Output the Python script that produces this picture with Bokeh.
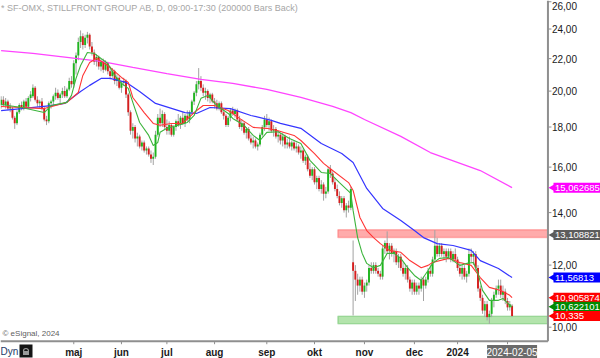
import math
from bokeh.plotting import figure
from bokeh.models import Range1d, BoxAnnotation, ColumnDataSource
from bokeh.core.properties import value
from bokeh.embed import file_html
from bokeh.resources import INLINE

# ---------------- data ----------------
open_ = [19.2, 19.5, 19.2, 19.4, 19.0, 19.0, 18.5, 18.2, 18.8, 19.2,
         19.0, 19.4, 19.1, 19.6, 19.7, 20.2, 19.5, 19.3, 19.4, 19.0,
         18.4, 18.3, 19.3, 19.4, 19.7, 19.9, 19.6, 19.8, 20.0, 19.7,
         20.1, 20.6, 20.4, 21.7, 22.2, 23.1, 23.5, 22.9, 23.4, 23.6,
         22.8, 22.4, 21.8, 22.1, 21.5, 21.8, 21.3, 21.7, 21.2, 20.9,
         21.2, 20.6, 20.8, 20.2, 20.5, 20.6, 19.8, 18.8, 17.8, 18.0,
         17.4, 17.5, 17.0, 17.2, 16.8, 16.9, 16.6, 16.4, 16.5, 17.6,
         18.5, 18.2, 18.7, 18.0, 17.8, 18.1, 17.6, 18.0, 18.3, 18.1,
         18.5, 18.2, 18.6, 18.4, 18.8, 19.4, 19.9, 20.4, 20.6, 20.2,
         19.9, 20.0, 19.6, 19.8, 19.4, 19.3, 19.0, 19.3, 18.8, 18.6,
         18.1, 18.5, 18.9, 18.7, 18.9, 18.4, 18.0, 18.2, 17.7, 17.9,
         17.4, 17.2, 17.3, 17.0, 17.1, 17.6, 18.0, 18.4, 18.1, 18.3,
         17.8, 17.9, 17.5, 17.6, 17.3, 17.5, 17.1, 17.2, 17.0, 17.2,
         16.9, 17.0, 16.7, 16.8, 16.3, 16.5, 15.9, 15.6, 15.9, 15.3,
         15.5, 15.0, 15.2, 14.8, 14.9, 15.9, 15.7, 15.3, 15.0, 14.7,
         14.4, 14.6, 14.1, 14.3, 14.2, 12.1, 11.8, 11.5, 11.3, 11.5,
         11.1, 11.3, 11.4, 11.9, 11.8, 12.0, 11.8, 11.7, 11.6, 12.6,
         12.8, 12.5, 12.7, 12.4, 12.5, 12.1, 12.3, 11.9, 11.7, 11.9,
         11.5, 11.2, 11.4, 11.1, 11.3, 11.2, 11.5, 11.3, 11.5, 11.8,
         11.7, 12.2, 12.7, 12.4, 12.7, 12.4, 12.5, 12.3, 12.5, 12.2,
         12.4, 12.2, 11.9, 11.7, 11.9, 11.6, 11.7, 12.4, 12.3, 12.4,
         11.9, 11.2, 10.9, 10.5, 10.7, 10.3, 10.4, 10.8, 11.0, 11.2,
         11.3, 11.0, 11.1, 10.8, 10.6, 10.65]
high = [19.7, 19.7, 19.6, 19.5, 19.3, 19.1, 18.6, 18.9, 19.3, 19.4,
        19.5, 19.6, 19.7, 20.0, 20.4, 20.3, 19.7, 19.5, 19.6, 19.1,
        18.6, 19.4, 19.5, 19.8, 20.2, 20.1, 19.9, 20.2, 20.3, 20.2,
        20.8, 20.9, 21.9, 22.4, 23.4, 23.9, 23.7, 23.6, 23.8, 23.7,
        23.1, 22.6, 22.3, 22.2, 22.0, 22.0, 21.9, 21.8, 21.5, 21.4,
        21.3, 21.0, 20.9, 20.6, 20.8, 20.7, 19.9, 18.9, 18.2, 18.1,
        17.7, 17.6, 17.3, 17.3, 17.0, 17.0, 16.8, 16.7, 17.8, 18.7,
        19.0, 18.9, 18.8, 18.4, 18.3, 18.2, 18.1, 18.4, 18.7, 18.6,
        18.8, 18.7, 18.9, 18.9, 19.5, 20.0, 20.6, 21.4, 20.9, 20.4,
        20.2, 20.1, 19.9, 19.9, 19.6, 19.5, 19.4, 19.4, 19.0, 18.7,
        18.6, 19.0, 19.1, 19.0, 19.0, 18.6, 18.4, 18.3, 18.0, 18.0,
        17.6, 17.5, 17.4, 17.2, 17.7, 18.1, 18.6, 18.7, 18.5, 18.4,
        18.1, 18.0, 17.8, 17.7, 17.7, 17.6, 17.4, 17.5, 17.3, 17.3,
        17.2, 17.1, 17.0, 16.9, 16.6, 16.6, 16.2, 16.0, 16.0, 15.6,
        15.6, 15.4, 15.3, 15.1, 16.0, 16.1, 15.8, 15.5, 15.2, 14.9,
        14.7, 14.7, 14.4, 14.5, 15.1, 12.9, 12.0, 11.7, 11.6, 11.6,
        11.4, 11.5, 12.0, 12.1, 12.1, 12.1, 11.9, 11.8, 12.7, 12.9,
        13.25, 12.8, 12.8, 12.6, 12.6, 12.4, 12.4, 12.1, 12.0, 12.0,
        11.6, 11.5, 11.5, 11.4, 11.4, 11.6, 11.6, 11.6, 11.9, 12.0,
        12.3, 13.3, 13.0, 12.8, 12.8, 12.6, 12.6, 12.6, 12.6, 12.5,
        12.6, 12.3, 12.1, 12.0, 12.0, 11.8, 12.6, 12.6, 12.5, 12.5,
        12.0, 11.3, 11.0, 10.8, 10.8, 10.5, 10.9, 11.1, 11.3, 11.5,
        11.5, 11.3, 11.2, 10.9, 10.8, 10.7]
low = [19.0, 19.1, 19.0, 18.9, 18.8, 18.4, 17.9, 18.1, 18.7, 18.9,
       18.9, 19.0, 19.0, 19.4, 19.6, 19.4, 19.1, 19.0, 18.9, 18.3,
       18.1, 18.2, 19.0, 19.2, 19.5, 19.5, 19.3, 19.6, 19.6, 19.6,
       20.0, 20.2, 20.2, 21.0, 21.9, 22.7, 22.6, 22.7, 23.0, 22.6,
       22.2, 21.6, 21.5, 21.3, 21.2, 21.1, 21.2, 21.0, 20.7, 20.8,
       20.4, 20.3, 20.1, 19.9, 20.3, 19.6, 18.6, 17.6, 17.4, 17.2,
       17.0, 16.9, 16.8, 16.7, 16.6, 16.5, 16.2, 16.1, 16.4, 17.5,
       18.0, 18.0, 17.9, 17.6, 17.6, 17.5, 17.5, 17.8, 18.0, 17.9,
       18.1, 18.0, 18.3, 18.2, 18.7, 19.2, 19.7, 20.1, 20.0, 19.7,
       19.5, 19.4, 19.3, 19.3, 19.0, 18.9, 18.9, 18.7, 18.4, 18.0,
       18.0, 18.3, 18.6, 18.5, 18.3, 17.9, 17.8, 17.6, 17.4, 17.3,
       17.1, 16.9, 16.9, 16.8, 17.0, 17.5, 17.8, 18.0, 17.8, 17.7,
       17.5, 17.4, 17.2, 17.1, 17.0, 16.9, 16.9, 16.9, 16.8, 16.8,
       16.7, 16.6, 16.4, 16.2, 16.1, 15.8, 15.5, 15.4, 15.2, 15.0,
       14.9, 14.8, 14.5, 14.6, 14.8, 15.5, 15.2, 14.9, 14.6, 14.3,
       14.2, 14.0, 13.8, 14.0, 14.1, 10.35, 10.8, 11.0, 11.1, 11.0,
       10.9, 11.1, 11.3, 11.7, 11.7, 11.7, 11.6, 11.5, 11.5, 12.4,
       12.4, 12.2, 12.3, 12.1, 12.0, 11.9, 11.8, 11.6, 11.5, 11.4,
       11.1, 11.0, 11.0, 11.0, 11.0, 11.1, 10.8, 11.2, 11.4, 11.6,
       11.6, 12.1, 12.3, 12.3, 12.3, 12.2, 12.1, 12.2, 12.1, 12.1,
       12.1, 11.8, 11.6, 11.5, 11.5, 11.4, 11.6, 12.1, 12.0, 11.8,
       11.1, 10.8, 10.4, 10.3, 10.2, 10.1, 10.3, 10.6, 10.9, 11.0,
       10.9, 10.8, 10.7, 10.5, 10.5, 10.3]
close = [19.5, 19.2, 19.4, 19.0, 19.1, 18.5, 18.2, 18.8, 19.2, 19.0,
         19.4, 19.1, 19.6, 19.8, 20.2, 19.5, 19.3, 19.4, 19.0, 18.4,
         18.3, 19.3, 19.4, 19.7, 19.9, 19.6, 19.8, 20.0, 19.7, 20.1,
         20.6, 20.4, 21.7, 22.2, 23.1, 23.5, 22.9, 23.4, 23.6, 22.8,
         22.4, 21.8, 22.1, 21.5, 21.8, 21.3, 21.7, 21.2, 20.9, 21.2,
         20.6, 20.8, 20.2, 20.5, 20.6, 19.8, 18.8, 17.8, 18.0, 17.4,
         17.5, 17.0, 17.2, 16.8, 16.9, 16.6, 16.4, 16.5, 17.6, 18.5,
         18.2, 18.7, 18.0, 17.8, 18.1, 17.6, 18.0, 18.3, 18.1, 18.5,
         18.2, 18.6, 18.4, 18.8, 19.4, 19.9, 20.4, 20.6, 20.2, 19.9,
         20.0, 19.6, 19.8, 19.4, 19.3, 19.0, 19.3, 18.8, 18.6, 18.1,
         18.5, 18.9, 18.7, 18.9, 18.4, 18.0, 18.2, 17.7, 17.9, 17.4,
         17.2, 17.3, 17.0, 17.1, 17.6, 18.0, 18.4, 18.1, 18.3, 17.8,
         17.9, 17.5, 17.6, 17.3, 17.5, 17.1, 17.2, 17.0, 17.2, 16.9,
         17.0, 16.7, 16.8, 16.3, 16.5, 15.9, 15.6, 15.9, 15.3, 15.5,
         15.0, 15.2, 14.8, 14.9, 15.9, 15.7, 15.3, 15.0, 14.7, 14.4,
         14.6, 14.1, 14.3, 14.2, 15.0, 11.8, 11.5, 11.3, 11.5, 11.1,
         11.3, 11.4, 11.9, 11.8, 12.0, 11.8, 11.7, 11.6, 12.6, 12.8,
         12.5, 12.7, 12.4, 12.5, 12.1, 12.3, 11.9, 11.7, 11.9, 11.5,
         11.2, 11.4, 11.1, 11.3, 11.2, 11.5, 11.3, 11.5, 11.8, 11.7,
         12.2, 12.7, 12.4, 12.7, 12.4, 12.5, 12.3, 12.5, 12.2, 12.4,
         12.2, 11.9, 11.7, 11.9, 11.6, 11.7, 12.4, 12.3, 12.4, 11.9,
         11.2, 10.9, 10.5, 10.7, 10.3, 10.4, 10.8, 11.0, 11.2, 11.3,
         11.0, 11.1, 10.8, 10.6, 10.7, 10.335]

# moving averages (bar index, value)
ma_green_idx = [0, 9, 19, 22, 29, 31, 33, 35, 38, 41, 44, 47, 50, 53, 56, 58, 61, 65, 67, 69,
                70, 73, 78, 82, 85, 88, 91, 95, 100, 102, 107, 111, 114, 117, 122, 127, 132, 136, 141,
                145, 149, 154, 155, 157, 159, 161, 164, 167, 170, 173, 176, 179, 182, 185, 188, 190,
                193, 197, 199, 202, 205, 208, 210, 212, 215, 219, 221, 224, 225]
ma_green = [19.23, 19.06, 18.78, 19.17, 19.35, 19.75, 20.76, 21.56, 22.40, 22.34, 22.01, 21.69,
            20.94, 20.46, 20.16, 19.35, 18.24, 17.56, 17.05, 17.20, 17.72, 17.93, 18.09, 18.24,
            18.62, 19.58, 19.75, 19.17, 18.73, 18.46, 18.09, 17.56, 17.30, 17.72, 17.75, 17.40,
            17.15, 16.32, 15.75, 15.70, 15.29, 14.81, 14.09, 13.01, 12.42, 12.06, 11.91, 11.99,
            12.42, 12.42, 12.24, 11.91, 11.64, 11.47, 11.81, 12.06, 12.24, 12.27, 12.16, 11.99,
            12.06, 12.09, 11.71, 11.14, 10.82, 10.82, 10.88, 10.66, 10.622]
ma_red_idx = [0, 19, 29, 34, 36, 39, 42, 45, 48, 53, 56, 58, 63, 67, 70, 75, 80, 85, 89, 94,
              100, 105, 111, 117, 122, 129, 132, 138, 142, 146, 153, 155, 158, 161, 164, 167, 171,
              176, 180, 185, 188, 190, 197, 202, 207, 211, 215, 220, 224, 225]
ma_red = [19.12, 19.00, 19.35, 19.92, 20.94, 21.75, 22.01, 21.75, 21.44, 20.82, 20.52, 19.63,
          18.78, 18.19, 18.09, 18.19, 18.19, 18.78, 19.17, 19.17, 18.89, 18.46, 17.98, 17.93,
          17.80, 17.56, 17.30, 16.65, 16.18, 15.84, 15.29, 14.94, 13.80, 13.28, 13.01, 12.78,
          12.53, 12.46, 12.16, 11.91, 11.99, 12.09, 12.24, 12.09, 11.99, 11.57, 11.24, 11.14,
          10.98, 10.906]
ma_blue_idx = [0, 9, 22, 28, 35, 39, 44, 48, 55, 61, 68, 81, 86, 92, 101, 110, 119, 123, 132,
               141, 150, 155, 161, 168, 176, 182, 186, 192, 199, 207, 211, 219, 225]
ma_blue = [18.89, 19.00, 19.17, 19.29, 19.98, 20.34, 20.76, 20.76, 20.52, 19.98, 19.29, 18.78,
           18.73, 19.06, 19.00, 18.62, 18.35, 18.19, 17.93, 17.15, 16.65, 16.22, 15.03, 14.17,
           13.68, 13.28, 13.01, 12.78, 12.71, 12.53, 12.16, 11.88, 11.568]
ma_mag_idx = [0, 14, 29, 44, 58, 73, 88, 102, 117, 132, 146, 154, 160, 176, 189, 211, 225]
ma_mag = [22.53, 22.34, 22.08, 21.82, 21.44, 21.06, 20.70, 20.46, 20.10, 19.63, 19.12, 18.78,
          18.40, 17.51, 16.70, 15.84, 15.063]

month_ticks = [32, 53, 73, 94, 117, 138, 160, 182, 201, 223]
month_labels = ["maj", "jun", "jul", "aug", "sep", "okt", "nov", "dec", "2024", ""]
price_ticks = [10, 12, 14, 16, 18, 20, 22, 24, 26]
price_labels = ["10,00", "12,00", "14,00", "16,00", "18,00", "20,00", "22,00", "24,00", "26,00"]

red_band = [13.01, 13.31]
green_band = [10.10, 10.33]
band_start = 148.3

tag_values = [15.062685, 13.108821, 11.56813, 10.905874, 10.622101, 10.335]
tag_texts = ["15,062685", "13,108821", "11,56813", "10,905874", "10,622101", "10,335"]
tag_colors = ["#ff00ff", "#5c5c5c", "#0000ff", "#ff0000", "#008a00", "#ff0000"]

title_text = "* SF-OMX, STILLFRONT GROUP AB, D, 09:00-17:30 (200000 Bars Back)"
last_date = "2024-02-05"
last_idx = 225

# ---------------- layout constants (pixels <-> data) ----------------
FONT = "Liberation Sans"
W, H = 600, 358
X0, X1 = -0.264, 263.94          # whole canvas in bar units
Y0, Y1 = 9.122, 26.096           # whole canvas in price (log scale)
PX_X = W / (X1 - X0)             # px per bar
PX_LN = H / math.log(Y1 / Y0)    # px per ln(price)
AXIS_X = 240.8                   # right price axis position (bar units)
AXIS_Y = 9.597                   # bottom time axis position (price)


def fx(px):            # canvas px from left -> bar units
    return X0 + px / PX_X


def down(p, px):       # price moved down by px pixels
    return p * math.exp(-px / PX_LN)


n = len(close)
src = ColumnDataSource(dict(
    x=list(range(n)), high=high, low=low,
    top=[max(o, c) for o, c in zip(open_, close)],
    bottom=[min(o, c) for o, c in zip(open_, close)],
    color=["#1fb51f" if c >= o else "#d61e1e" for o, c in zip(open_, close)],
))

p = figure(width=W, height=H, output_backend="svg", toolbar_location=None,
           y_axis_type="log", x_axis_location=None, y_axis_location=None,
           x_range=Range1d(X0, X1), y_range=Range1d(Y0, Y1), min_border=0)
p.outline_line_color = None
p.grid.visible = False
p.background_fill_color = "white"
p.border_fill_color = "white"

# support / resistance bands
p.add_layout(BoxAnnotation(left=band_start, right=AXIS_X, bottom=red_band[0], top=red_band[1],
                           fill_color="#ff9c9c", fill_alpha=0.85, line_color="#ff3434",
                           line_width=1.5, level="underlay"))
p.add_layout(BoxAnnotation(left=band_start, right=AXIS_X, bottom=green_band[0], top=green_band[1],
                           fill_color="#a6df9e", fill_alpha=0.85, line_color="#33a833",
                           line_width=1.5, level="underlay"))

# candles
p.segment(x0="x", y0="low", x1="x", y1="high", source=src, line_color="#a2a2a2", line_width=1)
p.vbar(x="x", width=0.85, top="top", bottom="bottom", source=src,
       fill_color="color", line_color=None)

# moving averages
p.line(ma_mag_idx, ma_mag, line_color="#ff44ff", line_width=1.3)
p.line(ma_blue_idx, ma_blue, line_color="#3535ff", line_width=1.2)
p.line(ma_red_idx, ma_red, line_color="#ff3535", line_width=1.1)
p.line(ma_green_idx, ma_green, line_color="#3cb43c", line_width=1.1)

AX_COL = "#8f8f8f"
# price axis (right)
p.segment(x0=[AXIS_X], y0=[AXIS_Y], x1=[AXIS_X], y1=[Y1], line_color=AX_COL, line_width=2)
p.segment(x0=[AXIS_X] * len(price_ticks), y0=price_ticks,
          x1=[AXIS_X + 3.5 / PX_X] * len(price_ticks), y1=price_ticks,
          line_color=AX_COL, line_width=1)
label_y = [min(t, down(Y1, 5)) for t in price_ticks]   # keep the top label inside the canvas
p.text(x=[AXIS_X + 4 / PX_X] * len(price_ticks), y=label_y, text=price_labels,
       text_font=value(FONT), text_font_size="10px", text_color="#1a1a1a",
       text_baseline="middle", text_align="left")

# time axis (bottom)
p.segment(x0=[X0], y0=[AXIS_Y], x1=[AXIS_X], y1=[AXIS_Y], line_color=AX_COL, line_width=2)
p.segment(x0=month_ticks, y0=[AXIS_Y] * len(month_ticks),
          x1=month_ticks, y1=[down(AXIS_Y, 3)] * len(month_ticks),
          line_color=AX_COL, line_width=1)
p.text(x=month_ticks, y=[down(AXIS_Y, 11)] * len(month_ticks), text=month_labels,
       text_font=value(FONT), text_font_size="10px", text_font_style="bold",
       text_color="#1a1a1a", text_baseline="middle", text_align="center")

# last bar date box
p.rect(x=[last_idx], y=[down(AXIS_Y, 10.8)], width=50, height=14,
       width_units="screen", height_units="screen", fill_color="#6b6b6b", line_color=None)
p.text(x=[last_idx], y=[down(AXIS_Y, 11)], text=[last_date], text_font=value(FONT),
       text_font_size="10px", text_color="white", text_baseline="middle", text_align="center")

# bottom-left: "Dyn" and lock button
p.text(x=[fx(0)], y=[down(AXIS_Y, 10.5)], text=["Dyn"], text_font=value(FONT),
       text_font_size="10px", text_color="#243a66", text_baseline="middle", text_align="left")
p.rect(x=[fx(25.5)], y=[down(AXIS_Y, 9.8)], width=13, height=13, width_units="screen",
       height_units="screen", fill_color="#151515", line_color=None)
p.rect(x=[fx(25.5)], y=[down(AXIS_Y, 11.8)], width=6, height=4, width_units="screen",
       height_units="screen", fill_color="#9a9a9a", line_color=None)
p.arc(x=[fx(25.5)], y=[down(AXIS_Y, 9.8)], radius=2.5, radius_units="screen",
      start_angle=0, end_angle=math.pi, line_color="#9a9a9a", line_width=1.2)

# title and copyright
p.text(x=[fx(0.5)], y=[down(Y1, 7)], text=[title_text], text_font=value(FONT),
       text_font_size="9px", text_color="#a6a6a6", text_baseline="middle", text_align="left")
p.text(x=[fx(2)], y=[down(AXIS_Y, -7.5)], text=["\u00a9 eSignal, 2024"], text_font=value(FONT),
       text_font_size="8px", text_color="#606060", text_baseline="middle", text_align="left")

# value tags on the price axis
k = len(tag_values)
p.scatter(x=[fx(553.8)] * k, y=tag_values, marker="triangle", size=10, angle=math.pi / 2,
          fill_color=tag_colors, line_color=None)
p.rect(x=[fx(576.5)] * k, y=tag_values, width=47, height=10, width_units="screen",
       height_units="screen", fill_color=tag_colors, line_color=None)
p.text(x=[fx(554.5)] * k, y=tag_values, text=tag_texts, text_font=value(FONT),
       text_font_size="9.5px", text_color="white", text_baseline="middle", text_align="left")

open("out.html", "w").write(file_html(p, INLINE))
